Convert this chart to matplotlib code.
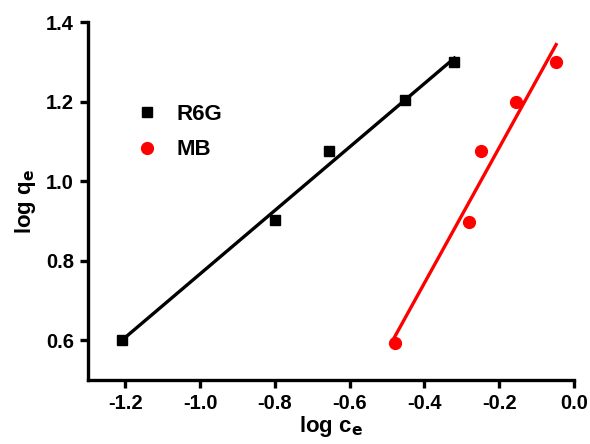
import numpy as np
import matplotlib
matplotlib.use("Agg")
import matplotlib.pyplot as plt

plt.rcParams['font.family'] = ['Liberation Sans', 'DejaVu Sans']
plt.rcParams['font.weight'] = 'bold'

# Freundlich isotherm data (log ce, log qe)
r6g_x = [-1.21, -0.80, -0.656, -0.453, -0.32]
r6g_y = [0.60, 0.902, 1.075, 1.204, 1.30]
mb_x = [-0.48, -0.28, -0.248, -0.155, -0.048]
mb_y = [0.593, 0.897, 1.075, 1.20, 1.30]

fig = plt.figure(figsize=(5.9, 4.44), dpi=100)
ax = fig.add_axes([0.149, 0.144, 0.824, 0.806])

for xs, ys, col, mk, ms, lab in [(r6g_x, r6g_y, 'black', 's', 7.5, 'R6G'),
                                  (mb_x, mb_y, 'red', 'o', 8.5, 'MB')]:
    k, b = np.polyfit(xs, ys, 1)
    xx = np.array([min(xs), max(xs)])
    ax.plot(xs, ys, linestyle='none', marker=mk, ms=ms, color=col, label=lab)
    ax.plot(xx, k * xx + b, color=col, lw=2.4)

ax.set_xlim(-1.3, 0.0)
ax.set_ylim(0.5, 1.4)
ax.set_xticks(np.arange(-1.2, 0.01, 0.2))
ax.set_xticklabels(['-1.2', '-1.0', '-0.8', '-0.6', '-0.4', '-0.2', '0.0'])
ax.set_yticks([0.6, 0.8, 1.0, 1.2, 1.4])
ax.set_yticklabels(['0.6', '0.8', '1.0', '1.2', '1.4'])

for s in ['top', 'right']:
    ax.spines[s].set_visible(False)
for s in ['left', 'bottom']:
    ax.spines[s].set_linewidth(2.4)
ax.tick_params(direction='out', length=6, width=2.4, labelsize=14.5, pad=4)

ax.set_xlabel('log c$_\\mathbf{e}$', fontsize=16, fontweight='bold', labelpad=1)
ax.set_ylabel('log q$_\\mathbf{e}$', fontsize=16, fontweight='bold', labelpad=6)

ax.legend(loc='center left', bbox_to_anchor=(0.035, 0.693), frameon=False,
          fontsize=16, handletextpad=0.3, labelspacing=0.65, markerscale=1.0)

fig.savefig('out.png', dpi=100)
